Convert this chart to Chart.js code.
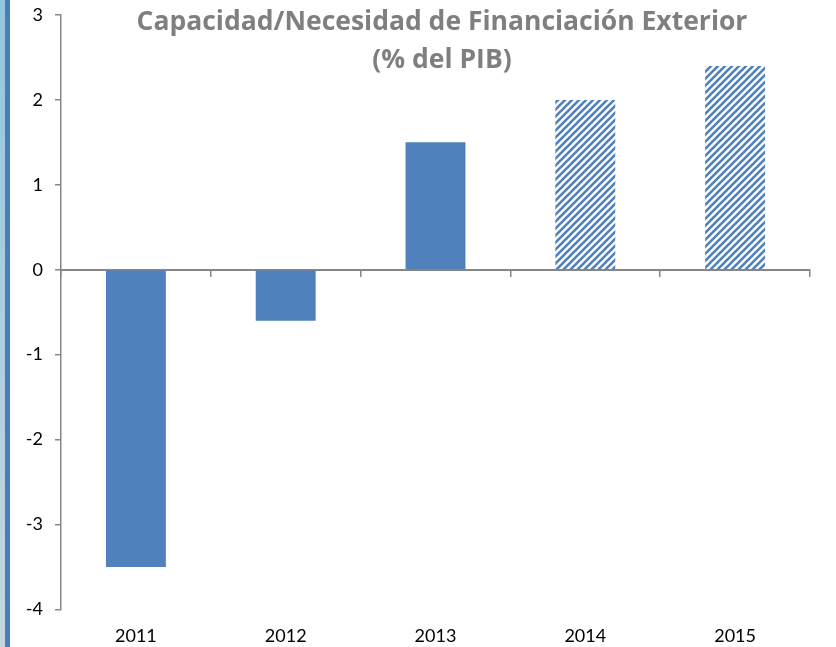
<!DOCTYPE html>
<html>
<head>
<meta charset="utf-8">
<script src="https://cdn.jsdelivr.net/npm/chart.js@4"></script>
<style>
  html,body{margin:0;padding:0;background:#fff;}
  #wrap{position:relative;width:836px;height:647px;overflow:hidden;}
  #strip1{position:absolute;left:0;top:0;width:5px;height:647px;background:linear-gradient(#93c6de,#c6d6de);}
  #strip2{position:absolute;left:5px;top:0;width:5px;height:647px;background:#4a7ebb;}
  #title{position:absolute;left:0;width:884px;top:1px;text-align:center;
    font:bold 26.5px "Open Sans",sans-serif;color:#7f7f7f;line-height:38px;}
  canvas{position:absolute;left:0;top:0;}
</style>
</head>
<body>
<div id="wrap">
  <div id="strip1"></div>
  <div id="strip2"></div>
  <canvas id="chart" width="836" height="647"></canvas>
  <div id="title">Capacidad/Necesidad de Financiación Exterior<br>(% del PIB)</div>
</div>
<script>
/* ---------- DATA ---------- */
const years = ["2011","2012","2013","2014","2015"];
const values = [-3.5, -0.6, 1.5, 2.0, 2.4];
const forecast = [false, false, false, true, true];
const yTicks = [-4,-3,-2,-1,0,1,2,3];

const blue = "#4f81bd";
const axisGray = "#868686";

/* ---------- HATCH ---------- */
function hatch(){
  const c = document.createElement("canvas");
  c.width = 7; c.height = 7;
  const x = c.getContext("2d");
  x.fillStyle = "#fff";
  x.fillRect(0,0,7,7);
  x.strokeStyle = blue;
  x.lineWidth = 2.6;
  x.beginPath();
  x.moveTo(-2,2); x.lineTo(2,-2);
  x.moveTo(-2,9); x.lineTo(9,-2);
  x.moveTo(5,9); x.lineTo(9,5);
  x.stroke();
  return x.createPattern(c,"repeat");
}
const pat = hatch();

/* ---------- CHART ---------- */
new Chart(document.getElementById("chart"),{
  type:"bar",
  data:{
    labels:years,
    datasets:[{
      data:values,
      backgroundColor:forecast.map(f=>f?pat:blue),
      categoryPercentage:1,
      barPercentage:0.4,
      borderWidth:0
    }]
  },
  options:{
    responsive:false,
    animation:false,
    events:[],
    layout:{padding:{left:0,right:26,top:15,bottom:-16}},
    plugins:{legend:{display:false},tooltip:{enabled:false},title:{display:false}},
    scales:{
      x:{
        position:"bottom",
        grid:{display:false,drawTicks:false},
        border:{display:false},
        ticks:{color:"#000",font:{family:"Lato",size:18},padding:16}
      },
      x0:{
        type:"category",
        labels:years,
        position:{y:0},
        offset:true,
        afterFit:s=>{s.height=0;},
        grid:{offset:true,drawOnChartArea:false,drawTicks:true,tickLength:6,color:axisGray,lineWidth:1.5},
        border:{display:true,color:axisGray,width:2},
        ticks:{display:false}
      },
      y:{
        min:-4,max:3,
        afterFit:s=>{s.width=61;s.paddingTop=0;s.paddingBottom=0;},
        afterBuildTicks:s=>{s.ticks=yTicks.map(v=>({value:v}));},
        grid:{drawOnChartArea:false,drawTicks:true,tickLength:6,color:axisGray,lineWidth:1.5},
        border:{display:true,color:axisGray,width:1.5},
        ticks:{color:"#000",font:{family:"Lato",size:18},padding:12}
      }
    }
  }
});
</script>
</body>
</html>
